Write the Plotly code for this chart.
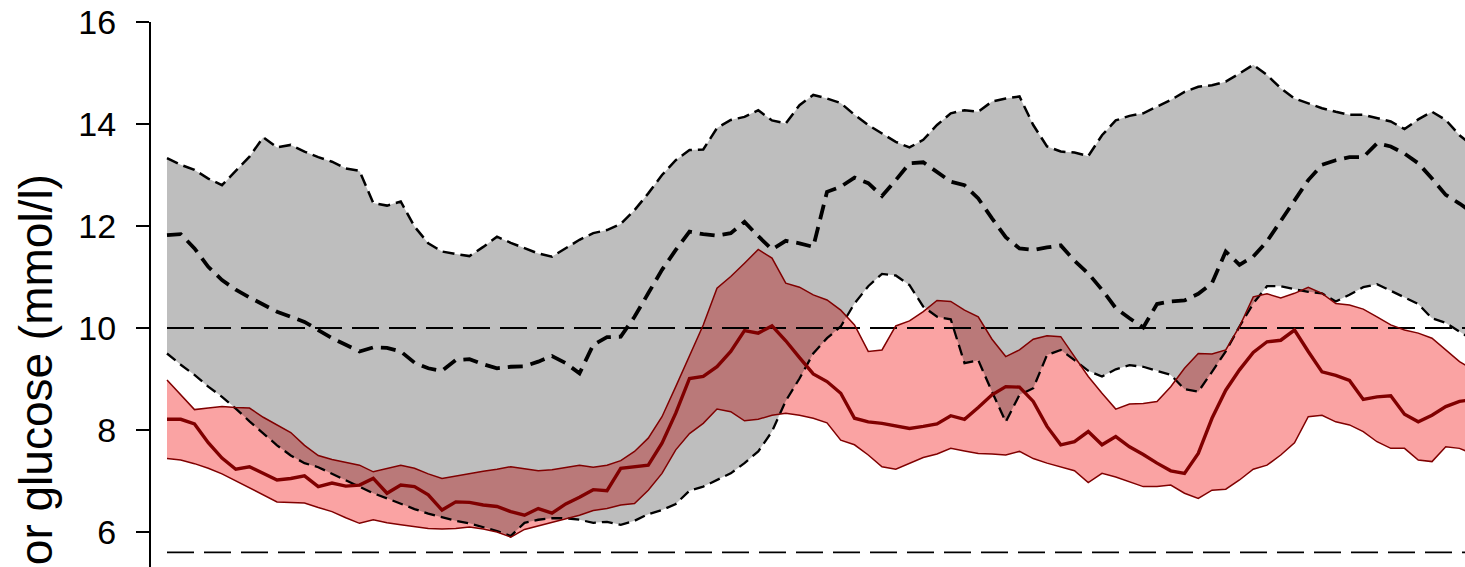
import plotly.graph_objects as go

# 15-minute sampling over the day (hours)
n_points = 96
hours = [i * 0.25 for i in range(n_points)]

# Reference group: 25th / 50th / 75th percentile of sensor glucose (mmol/l)
grey_upper = [13.33, 13.20, 13.10, 12.93, 12.80, 13.07, 13.36, 13.74, 13.54, 13.59,
              13.46, 13.35, 13.26, 13.13, 13.08, 12.45, 12.40, 12.48, 11.99, 11.66,
              11.50, 11.45, 11.41, 11.59, 11.79, 11.67, 11.56, 11.46, 11.40, 11.56,
              11.73, 11.86, 11.92, 12.04, 12.31, 12.64, 13.00, 13.29, 13.49, 13.50,
              13.92, 14.08, 14.14, 14.27, 14.07, 14.01, 14.37, 14.57, 14.50, 14.41,
              14.18, 13.98, 13.82, 13.65, 13.54, 13.69, 13.98, 14.21, 14.27, 14.24,
              14.44, 14.50, 14.54, 13.98, 13.56, 13.46, 13.44, 13.37, 13.78, 14.07,
              14.16, 14.21, 14.34, 14.47, 14.63, 14.73, 14.76, 14.83, 14.99, 15.16,
              14.96, 14.70, 14.50, 14.41, 14.31, 14.24, 14.18, 14.18, 14.11, 14.05,
              13.90, 14.09, 14.24, 14.08, 13.78, 13.56]
grey_median = [11.82, 11.84, 11.56, 11.20, 10.94, 10.75, 10.60, 10.45, 10.32, 10.22,
               10.12, 9.96, 9.80, 9.67, 9.54, 9.62, 9.61, 9.54, 9.32, 9.21,
               9.16, 9.37, 9.39, 9.29, 9.21, 9.24, 9.25, 9.34, 9.45, 9.31,
               9.11, 9.67, 9.82, 9.83, 10.22, 10.68, 11.14, 11.53, 11.89, 11.84,
               11.81, 11.86, 12.08, 11.80, 11.54, 11.71, 11.66, 11.59, 12.67, 12.77,
               12.95, 12.84, 12.59, 12.90, 13.23, 13.25, 13.07, 12.87, 12.80, 12.54,
               12.15, 11.78, 11.56, 11.53, 11.58, 11.62, 11.32, 11.07, 10.75, 10.39,
               10.19, 10.01, 10.47, 10.52, 10.54, 10.67, 10.88, 11.50, 11.24, 11.40,
               11.70, 12.10, 12.50, 12.90, 13.20, 13.29, 13.35, 13.35, 13.62, 13.56,
               13.42, 13.23, 12.93, 12.61, 12.44, 12.25]
grey_lower = [9.50, 9.28, 9.08, 8.85, 8.65, 8.42, 8.17, 7.93, 7.70, 7.50,
              7.35, 7.27, 7.14, 7.02, 6.89, 6.76, 6.66, 6.55, 6.45, 6.36,
              6.29, 6.22, 6.17, 6.10, 6.02, 5.92, 6.18, 6.24, 6.27, 6.27,
              6.24, 6.18, 6.20, 6.14, 6.22, 6.35, 6.43, 6.55, 6.81, 6.89,
              7.02, 7.15, 7.35, 7.58, 7.97, 8.57, 9.01, 9.50, 9.80, 10.03,
              10.48, 10.82, 11.06, 11.03, 10.84, 10.42, 10.22, 10.17, 9.31, 9.37,
              8.75, 8.16, 8.69, 8.82, 9.47, 9.57, 9.37, 9.16, 9.05, 9.19,
              9.27, 9.24, 9.16, 9.08, 8.80, 8.75, 9.14, 9.54, 10.03, 10.48,
              10.82, 10.82, 10.76, 10.71, 10.68, 10.52, 10.65, 10.80, 10.86, 10.73,
              10.60, 10.47, 10.19, 10.10, 9.93, 9.76]

# Intervention group: 25th / 50th / 75th percentile of sensor glucose (mmol/l)
red_upper = [8.98, 8.68, 8.40, 8.43, 8.46, 8.44, 8.43, 8.25, 8.10, 7.95,
             7.70, 7.50, 7.42, 7.36, 7.31, 7.18, 7.24, 7.31, 7.25, 7.14,
             7.05, 7.10, 7.15, 7.19, 7.23, 7.28, 7.24, 7.20, 7.22, 7.27,
             7.31, 7.27, 7.31, 7.40, 7.58, 7.84, 8.26, 8.85, 9.44, 10.06,
             10.78, 11.01, 11.27, 11.54, 11.37, 10.88, 10.80, 10.65, 10.55, 10.35,
             10.06, 9.54, 9.57, 10.04, 10.14, 10.32, 10.54, 10.52, 10.35, 10.22,
             9.78, 9.44, 9.57, 9.78, 9.85, 9.83, 9.44, 9.05, 8.72, 8.41,
             8.51, 8.52, 8.56, 8.85, 9.21, 9.50, 9.49, 9.57, 10.03, 10.61,
             10.67, 10.59, 10.68, 10.80, 10.68, 10.48, 10.45, 10.37, 10.22, 10.06,
             9.96, 9.90, 9.80, 9.57, 9.34, 9.18]
red_median = [8.21, 8.21, 8.12, 7.75, 7.45, 7.23, 7.28, 7.15, 7.02, 7.05,
              7.10, 6.89, 6.96, 6.90, 6.92, 7.05, 6.76, 6.92, 6.89, 6.73,
              6.43, 6.59, 6.58, 6.53, 6.50, 6.40, 6.33, 6.46, 6.37, 6.55,
              6.68, 6.83, 6.81, 7.25, 7.28, 7.31, 7.74, 8.33, 9.01, 9.05,
              9.24, 9.54, 9.95, 9.90, 10.04, 9.75, 9.42, 9.10, 8.95, 8.72,
              8.23, 8.16, 8.13, 8.08, 8.03, 8.07, 8.12, 8.28, 8.21, 8.44,
              8.69, 8.85, 8.84, 8.56, 8.07, 7.71, 7.77, 7.97, 7.71, 7.87,
              7.67, 7.52, 7.35, 7.20, 7.15, 7.54, 8.23, 8.78, 9.18, 9.52,
              9.73, 9.76, 9.96, 9.54, 9.14, 9.07, 8.97, 8.60, 8.65, 8.67,
              8.31, 8.16, 8.29, 8.46, 8.56, 8.60]
red_lower = [7.44, 7.41, 7.34, 7.25, 7.14, 7.00, 6.86, 6.72, 6.59, 6.58,
             6.57, 6.48, 6.40, 6.28, 6.17, 6.24, 6.18, 6.14, 6.10, 6.07,
             6.06, 6.07, 6.10, 6.06, 6.00, 5.90, 6.05, 6.12, 6.18, 6.25,
             6.33, 6.42, 6.46, 6.53, 6.56, 6.82, 7.15, 7.61, 7.93, 8.13,
             8.41, 8.36, 8.18, 8.21, 8.29, 8.33, 8.29, 8.23, 8.14, 7.80,
             7.71, 7.51, 7.28, 7.23, 7.35, 7.46, 7.53, 7.64, 7.59, 7.54,
             7.53, 7.51, 7.58, 7.44, 7.35, 7.28, 7.20, 6.97, 7.15, 7.08,
             6.99, 6.89, 6.89, 6.92, 6.76, 6.66, 6.82, 6.84, 7.02, 7.23,
             7.31, 7.51, 7.75, 8.26, 8.29, 8.16, 8.10, 7.97, 7.77, 7.64,
             7.64, 7.41, 7.38, 7.67, 7.64, 7.53]

# Target-range limits (mmol/l)
limit_values = [10.0, 5.6]
y_ticks = [6, 8, 10, 12, 14, 16]

GREY_FILL = "rgb(190, 190, 190)"
PINK_FILL = "rgb(250, 163, 163)"
DARK_RED = "rgb(128, 0, 0)"

fig = go.Figure()

# Shaded interquartile bands (fill only)
fig.add_trace(go.Scatter(x=hours, y=grey_lower, mode="lines",
                         line=dict(width=0), hoverinfo="skip"))
fig.add_trace(go.Scatter(x=hours, y=grey_upper, mode="lines", fill="tonexty",
                         fillcolor=GREY_FILL, line=dict(width=0), hoverinfo="skip"))
fig.add_trace(go.Scatter(x=hours, y=red_lower, mode="lines",
                         line=dict(width=0), hoverinfo="skip"))
fig.add_trace(go.Scatter(x=hours, y=red_upper, mode="lines", fill="tonexty",
                         fillcolor=PINK_FILL, line=dict(width=0), hoverinfo="skip"))

# Horizontal limit lines across the day
for v in limit_values:
    fig.add_trace(go.Scatter(x=[hours[0], 24], y=[v, v], mode="lines",
                             line=dict(color="black", width=1.8, dash="27px,10px")))

# Reference group percentile lines
for series, w, dash in [(grey_upper, 2.5, "12px,6px"),
                        (grey_lower, 2.3, "11px,6px"),
                        (grey_median, 3.8, "15px,8px")]:
    fig.add_trace(go.Scatter(x=hours, y=series, mode="lines",
                             line=dict(color="black", width=w, dash=dash)))

# Intervention group percentile lines
for series, w in [(red_upper, 1.5), (red_lower, 1.5), (red_median, 3.4)]:
    fig.add_trace(go.Scatter(x=hours, y=series, mode="lines",
                             line=dict(color=DARK_RED, width=w)))

PX_PER_HOUR = 55.0
plot_left = 151
first_px = 167
x_left = (plot_left - first_px) / PX_PER_HOUR
x_right = (1465 - first_px) / PX_PER_HOUR

top_margin = 22
plot_h = 567 - top_margin
px_per_unit = 51.0
y_bottom = 16 - plot_h / px_per_unit

fig.update_layout(
    width=1465, height=567,
    margin=dict(l=plot_left, r=0, t=top_margin, b=0, pad=0),
    plot_bgcolor="white", paper_bgcolor="white",
    showlegend=False,
    font=dict(family="Liberation Sans, Arial, sans-serif", color="black"),
)
fig.update_xaxes(range=[x_left, x_right], visible=False)
fig.update_yaxes(
    range=[y_bottom, 16], tickvals=y_ticks,
    ticks="outside", ticklen=13, tickwidth=2, tickcolor="black",
    showline=True, linewidth=2, linecolor="black",
    showgrid=False, zeroline=False,
    tickfont=dict(size=34, color="black"),
    ticklabelstandoff=13,
)

fig.add_annotation(
    text="Sensor glucose (mmol/l)", textangle=-90,
    xref="paper", yref="paper", x=0, xshift=36 - plot_left,
    y=(567 - 172) / plot_h, xanchor="center", yanchor="top",
    showarrow=False, font=dict(size=46, color="black"),
)

# The pink band darkens whatever lies under it, as in a multiply blend
blend_js = """
var gd = document.getElementById('{plot_id}');
gd.querySelectorAll('path.js-fill').forEach(function(p) {
  var f = (p.style.fill || '').replace(/\\s/g, '');
  if (f === 'rgb(250,163,163)') { p.style.mixBlendMode = 'multiply'; }
});
"""

fig.write_html("out.html", post_script=blend_js)
